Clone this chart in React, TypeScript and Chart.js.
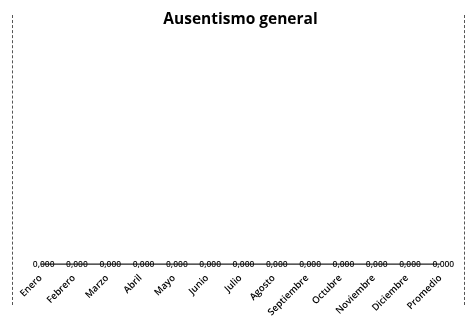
import React, { useEffect, useRef } from "react";
import { Chart, registerables } from "chart.js";

Chart.register(...registerables);

const categories = [
  "Enero", "Febrero", "Marzo", "Abril", "Mayo", "Junio", "Julio",
  "Agosto", "Septiembre", "Octubre", "Noviembre", "Diciembre", "Promedio",
];
const values = [0, 0, 0, 0, 0, 0, 0, 0, 0, 0, 0, 0, 0];
const titleText = "Ausentismo general";

const labelPlugin = {
  id: "pointLabels",
  afterDatasetsDraw(chart: any) {
    const ctx = chart.ctx;
    const meta = chart.getDatasetMeta(0);
    ctx.save();
    ctx.font = "600 8.5px 'Open Sans', sans-serif";
    ctx.fillStyle = "#111";
    ctx.textAlign = "center";
    ctx.textBaseline = "middle";
    meta.data.forEach((pt: any, i: number) => {
      const v = values[i];
      ctx.fillText(v.toFixed(3).replace(".", ","), pt.x + 3, pt.y);
    });
    ctx.restore();
  },
};

export default function App() {
  const ref = useRef<HTMLCanvasElement | null>(null);
  useEffect(() => {
    if (!ref.current) return;
    const chart = new Chart(ref.current, {
      type: "line",
      data: {
        labels: categories,
        datasets: [
          {
            label: "Ausentismo",
            data: values,
            borderColor: "#222",
            borderWidth: 1.2,
            pointRadius: 0,
            fill: false,
          },
        ],
      },
      options: {
        responsive: false,
        animation: false,
        layout: { padding: { left: 24, right: 10, top: 0, bottom: 2 } },
        plugins: {
          legend: { display: false },
          tooltip: { enabled: false },
          title: {
            display: true,
            text: titleText,
            color: "#000",
            font: { family: "'Open Sans', sans-serif", size: 15.5, weight: "bold" },
            padding: { top: 10, bottom: 8 },
          },
        },
        scales: {
          x: {
            offset: true,
            grid: { display: false, drawTicks: false },
            border: { display: false },
            ticks: {
              color: "#000",
              maxRotation: 45,
              minRotation: 45,
              autoSkip: false,
              padding: 6,
              font: { family: "'Open Sans', sans-serif", size: 9.5, weight: "600" },
            },
          },
          y: {
            display: false,
            min: -0.01,
            max: 1,
          },
        },
      },
      plugins: [labelPlugin],
    });
    return () => chart.destroy();
  }, []);
  return (
    <div
      style={{
        position: "fixed",
        left: 0,
        top: 0,
        width: 467,
        height: 326,
        background: "#fff",
      }}
    >
      <div
        style={{
          position: "absolute",
          left: 12,
          top: 15,
          width: 0,
          height: 290,
          borderLeft: "1px dashed #555",
        }}
      />
      <div
        style={{
          position: "absolute",
          left: 464,
          top: 15,
          width: 0,
          height: 290,
          borderLeft: "1px dashed #555",
        }}
      />
      <canvas ref={ref} width={467} height={326} style={{ display: "block" }} />
    </div>
  );
}
